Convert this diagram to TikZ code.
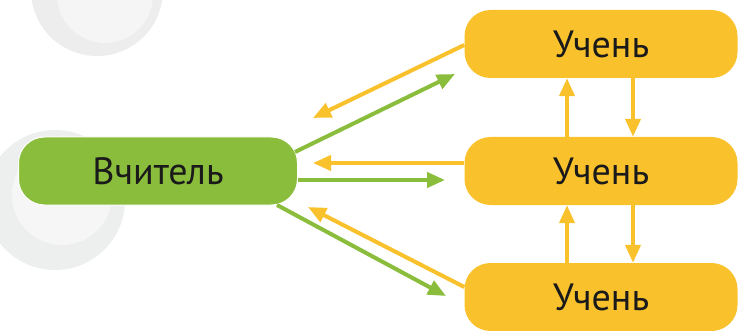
\documentclass[tikz,border=0pt]{standalone}
\usepackage{fontspec}
\setmainfont{PT Sans}
\usetikzlibrary{arrows.meta,calc}
\definecolor{gfill}{HTML}{8BBD3C}
\definecolor{yfill}{HTML}{F9C22C}
\definecolor{txt}{HTML}{1A1A1A}
\begin{document}
\begin{tikzpicture}[x=1pt,y=1pt,
  box/.style={rounded corners=26pt,minimum height=68pt,inner sep=0pt,text=txt,font=\fontsize{38}{44}\selectfont},
  gbox/.style={box,fill=gfill,draw=white,line width=1pt,minimum width=279pt},
  ybox/.style={box,fill=yfill,minimum width=273pt},
  garr/.style={draw=gfill,line width=4pt,-{Triangle[length=18pt,width=15pt]}},
  yarr/.style={draw=yfill,line width=4pt,-{Triangle[length=18pt,width=15pt]}}]
\fill[white] (0,0) rectangle (741,-331);
\useasboundingbox (0,0) rectangle (741,-331);
% faint background buttons
\fill[gray!14] (97,10) circle (66);
\fill[gray!8] (105,5) circle (48);
\fill[teal!8!gray!13] (55,-200) circle (70);
\fill[teal!5!gray!7] (62,-195) circle (50);
% nodes
\node[gbox] (g) at (158,-171) {Вчитель};
\node[ybox] (s1) at (601,-44) {Учень};
\node[ybox] (s2) at (601,-171) {Учень};
\node[ybox] (s3) at (601,-297) {Учень};
% free ends
\coordinate (a1) at (313,-118);
\coordinate (b2) at (295,-152);
\coordinate (a2) at (455,-74);
\coordinate (a3) at (313,-163);
\coordinate (b4) at (298,-180);
\coordinate (a4) at (445,-180);
\coordinate (b5) at (277,-205);
\coordinate (a5) at (446,-296);
\coordinate (a6) at (308,-207);
% connectors
\draw[yarr] ($(s1.west)+(0,-1)$) -- (a1);
\draw[garr] (b2) -- (a2);
\draw[yarr] ($(s2.west)+(0,8)$) -- (a3);
\draw[garr] (b4) -- (a4);
\draw[garr] (b5) -- (a5);
\draw[yarr] ($(s3.west)+(0,10)$) -- (a6);
\draw[yarr] ($(s2.north)+(-34,0)$) -- ($(s1.south)+(-34,0)$);
\draw[yarr] ($(s1.south)+(32,0)$) -- ($(s2.north)+(32,0)$);
\draw[yarr] ($(s3.north)+(-34,0)$) -- ($(s2.south)+(-34,0)$);
\draw[yarr] ($(s2.south)+(32,0)$) -- ($(s3.north)+(32,0)$);
\end{tikzpicture}
\end{document}
